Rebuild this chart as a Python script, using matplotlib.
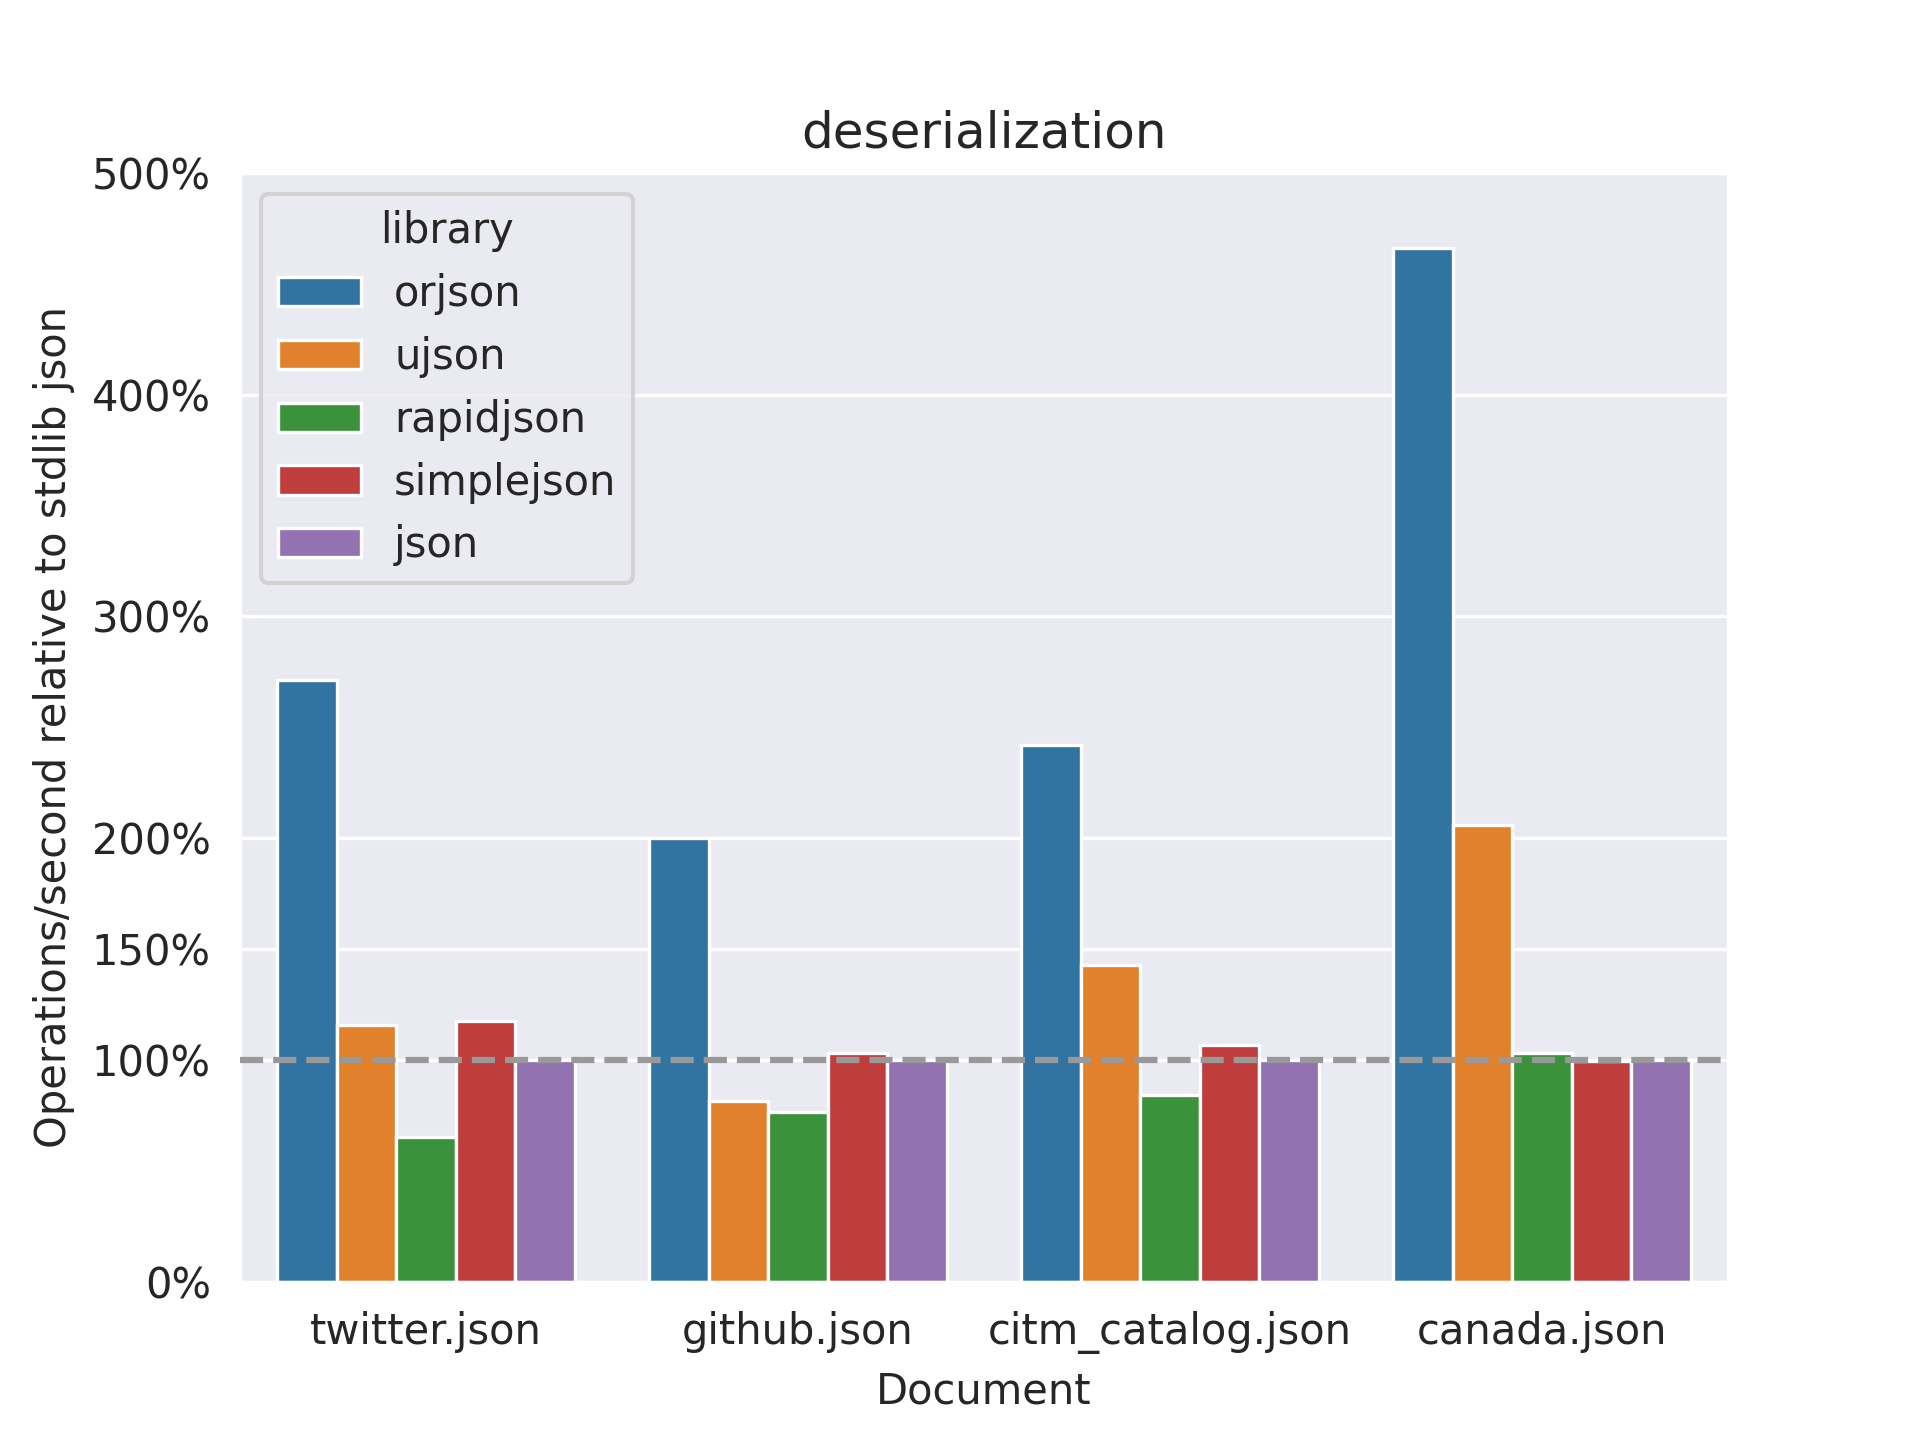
import matplotlib
matplotlib.use("Agg")
import matplotlib.pyplot as plt
import pandas as pd
import seaborn as sns

documents = ["twitter.json", "github.json", "citm_catalog.json", "canada.json"]
libraries = ["orjson", "ujson", "rapidjson", "simplejson", "json"]

# relative ops/sec (%) per library, one value per document
orjson = [271.3, 199.9, 242.0, 466.2]
ujson = [115.7, 81.4, 142.9, 206.0]
rapidjson = [65.3, 76.4, 84.2, 103.0]
simplejson = [117.4, 103.0, 106.9, 99.7]
stdlib = [100.0, 100.0, 100.0, 100.0]

yticks = [0, 100, 150, 200, 300, 400, 500]

series = {"orjson": orjson, "ujson": ujson, "rapidjson": rapidjson,
          "simplejson": simplejson, "json": stdlib}

rows = []
for lib in libraries:
    for doc, val in zip(documents, series[lib]):
        rows.append({"Document": doc, "library": lib, "relative": val})
df = pd.DataFrame(rows)

sns.set_style("darkgrid")
fig = plt.figure(figsize=(6.4, 4.8), dpi=300)
ax = sns.barplot(data=df, x="Document", y="relative", hue="library",
                 order=documents, hue_order=libraries, palette="tab10",
                 edgecolor="white", linewidth=0.8)
ax.axhline(100, color="#999999", linestyle="--", linewidth=1.5, zorder=5)
ax.set_ylim(0, 500)
ax.set_yticks(yticks)
ax.set_yticklabels(["{}%".format(t) for t in yticks])
ax.set_title("deserialization")
ax.set_xlabel("Document")
ax.set_ylabel("Operations/second relative to stdlib json")
ax.legend(title="library", loc="upper left")

plt.savefig("out.png", dpi=300)
